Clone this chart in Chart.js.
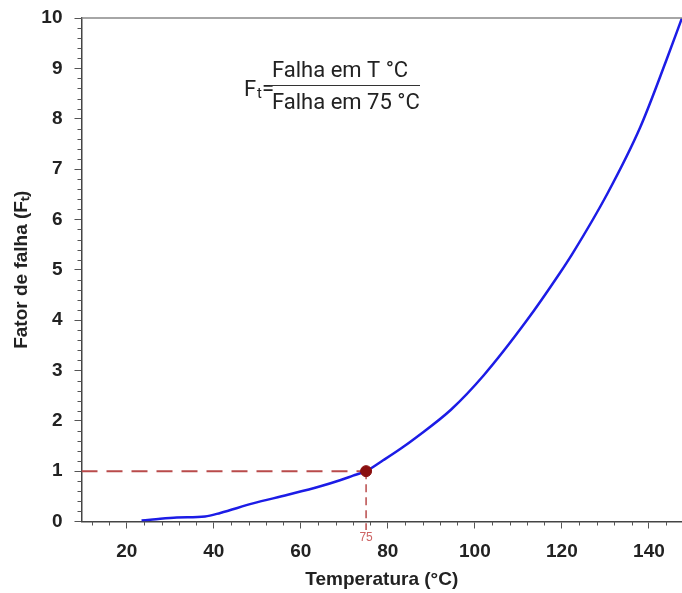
<!DOCTYPE html>
<html>
<head>
<meta charset="utf-8">
<script src="https://cdn.jsdelivr.net/npm/chart.js@4.4.1/dist/chart.umd.min.js"></script>
<style>
  html, body { margin: 0; padding: 0; background: #fff; }
  canvas { display: block; }
</style>
</head>
<body>
<canvas id="grafico" width="682" height="593"></canvas>
<script>
// curva
const temperatura = [23.4, 26, 31.5, 38, 41.5, 49, 57, 64.5, 69, 72, 75, 79, 83, 86.5, 94.5, 102, 112, 119.5, 122.5, 130.5, 138, 144, 147.6];
const fator = [0.02, 0.04, 0.08, 0.1, 0.17, 0.36, 0.53, 0.7, 0.82, 0.91, 1.0, 1.22, 1.45, 1.67, 2.22, 2.9, 4.0, 4.93, 5.33, 6.52, 7.83, 9.16, 10];

const tempRef = 75;
const fatorRef = 1;

const xMin = 9.6, xMax = 147.6;
const yMin = 0, yMax = 10;
const xTicks = [20, 40, 60, 80, 100, 120, 140];
const yTicks = [0, 1, 2, 3, 4, 5, 6, 7, 8, 9, 10];

const corLinha = "#1c1ce6";
const corRef = "rgb(185, 75, 75)";

const pontosCurva = temperatura.map((t, i) => ({ x: t, y: fator[i] }));

// marcas menores + moldura de cima + fórmula
const extras = {
    id: 'extras',
    afterDraw(chart) {
        const ctx = chart.ctx;
        const area = chart.chartArea;
        const sx = chart.scales.x, sy = chart.scales.y;
        ctx.save();
        ctx.strokeStyle = "#555";
        ctx.lineWidth = 1;
        ctx.beginPath();
        for (let v = 12; v < xMax; v += 4) {
            if (v % 20 === 0) continue;
            const px = Math.round(sx.getPixelForValue(v)) + 0.5;
            ctx.moveTo(px, area.bottom);
            ctx.lineTo(px, area.bottom + 4);
        }
        for (let k = 1; k < 50; k++) {
            if (k % 5 === 0) continue;
            const py = Math.round(sy.getPixelForValue(k / 5)) + 0.5;
            ctx.moveTo(area.left, py);
            ctx.lineTo(area.left - 4, py);
        }
        ctx.stroke();

        ctx.strokeStyle = "#888";
        ctx.lineWidth = 1.5;
        ctx.beginPath();
        ctx.moveTo(area.left, area.top);
        ctx.lineTo(area.right, area.top);
        ctx.stroke();

        // rótulo 75
        ctx.fillStyle = "rgb(205, 100, 100)";
        ctx.font = "12px 'Liberation Sans', Arial, sans-serif";
        ctx.textAlign = "center";
        ctx.textBaseline = "middle";
        ctx.fillText(String(tempRef), sx.getPixelForValue(tempRef), area.bottom + 16);

        // fórmula
        ctx.fillStyle = "#222";
        ctx.textAlign = "left";
        ctx.textBaseline = "alphabetic";
        ctx.font = "22px Roboto, sans-serif";
        ctx.fillText("F", 244, 96);
        ctx.font = "15px Roboto, sans-serif";
        ctx.fillText("t", 257, 98);
        ctx.font = "22px Roboto, sans-serif";
        ctx.fillText("=", 262, 95);
        ctx.fillText("Falha em T °C", 272, 77);
        ctx.fillText("Falha em 75 °C", 272, 109);
        ctx.strokeStyle = "#333";
        ctx.lineWidth = 1.2;
        ctx.beginPath();
        ctx.moveTo(270, 85.5);
        ctx.lineTo(420, 85.5);
        ctx.stroke();
        ctx.restore();
    }
};

const datos = {
    datasets: [
        {
            data: [{ x: xMin, y: fatorRef }, { x: tempRef, y: fatorRef }],
            borderColor: corRef,
            borderWidth: 2,
            borderDash: [16, 9],
            pointRadius: 0,
            order: 3
        },
        {
            data: [{ x: tempRef, y: fatorRef }, { x: tempRef, y: -0.17 }],
            borderColor: corRef,
            borderWidth: 1.5,
            borderDash: [8, 5],
            pointRadius: 0,
            clip: false,
            order: 3
        },
        {
            data: pontosCurva,
            borderColor: corLinha,
            borderWidth: 2.5,
            pointRadius: 0,
            cubicInterpolationMode: 'monotone',
            order: 2
        },
        {
            data: [{ x: tempRef, y: fatorRef }],
            backgroundColor: "#8a0f0f",
            borderColor: "#8a0f0f",
            pointRadius: 5.5,
            showLine: false,
            order: 1
        }
    ]
};

const fonteEixo = { family: "'Liberation Sans', Arial, sans-serif", size: 19, weight: 'bold' };

const opciones = {
    responsive: false,
    animation: false,
    devicePixelRatio: 1,
    layout: { autoPadding: false, padding: { top: 18, right: 0, bottom: 0, left: 0 } },
    plugins: {
        legend: { display: false },
        tooltip: { enabled: false }
    },
    scales: {
        x: {
            type: 'linear',
            min: xMin,
            max: xMax,
            afterBuildTicks: (scale) => { scale.ticks = xTicks.map(v => ({ value: v })); },
            afterFit: (scale) => { scale.height = 71.5; scale.paddingRight = 0; scale.paddingLeft = 0; },
            grid: { display: true, drawOnChartArea: false, drawTicks: true, tickLength: 7, color: "#555" },
            border: { display: true, color: "#444", width: 1.5 },
            ticks: { color: "#222", font: fonteEixo, padding: 12, maxRotation: 0 },
            title: { display: true, text: "Temperatura (°C)", color: "#222", font: fonteEixo, padding: { top: 0, bottom: 1.5 } }
        },
        y: {
            type: 'linear',
            min: yMin,
            max: yMax,
            afterBuildTicks: (scale) => { scale.ticks = yTicks.map(v => ({ value: v })); },
            afterFit: (scale) => { scale.width = 81.5; scale.paddingTop = 0; scale.paddingBottom = 0; },
            grid: { display: true, drawOnChartArea: false, drawTicks: true, tickLength: 7, color: "#555" },
            border: { display: true, color: "#444", width: 1.5 },
            ticks: { color: "#222", font: fonteEixo, padding: 12 },
            title: { display: true, text: "Fator de falha (Fₜ)", color: "#222", font: fonteEixo, padding: { top: 10.5, bottom: 0 } }
        }
    }
};

new Chart(document.getElementById('grafico'), {
    type: 'line',
    data: datos,
    options: opciones,
    plugins: [extras]
});
</script>
</body>
</html>
